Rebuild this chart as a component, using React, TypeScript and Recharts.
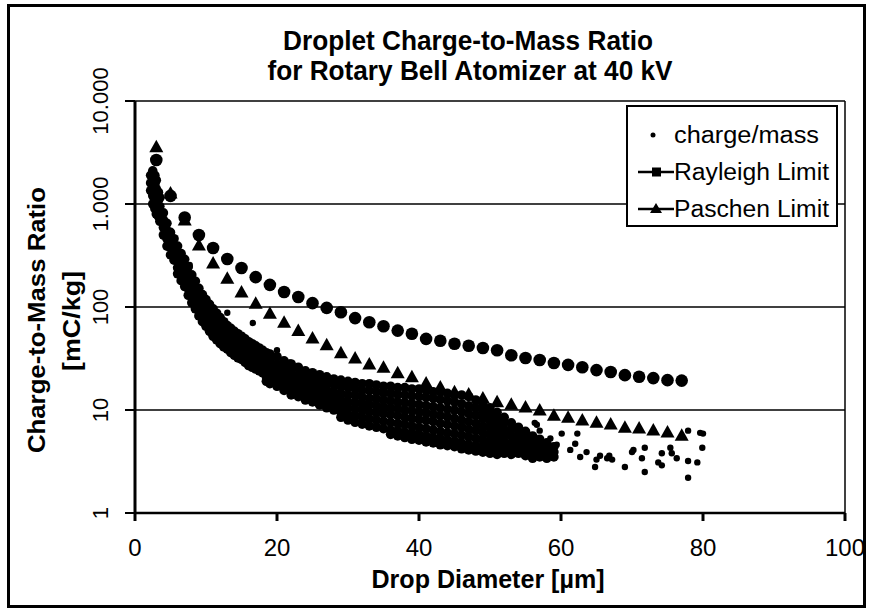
import {
  ScatterChart,
  Scatter,
  XAxis,
  YAxis,
  CartesianGrid,
  ReferenceLine,
  Legend,
} from "recharts";

const FONT = "'Liberation Sans', Arial, Helvetica, sans-serif";

const xTicks = [0, 20, 40, 60, 80, 100];
const yTicks = [1, 10, 100, 1000, 10000];
const yTickLabels = ["1", "10", "100", "1.000", "10.000"];

// diameters (µm) where the two limit curves are evaluated
const limitDiameters = [
  3, 5, 7, 9, 11, 13, 15, 17, 19, 21, 23, 25, 27, 29, 31, 33, 35, 37, 39,
  41, 43, 45, 47, 49, 51, 53, 55, 57, 59, 61, 63, 65, 67, 69, 71, 73, 75, 77,
];
const rayleighValues = [
  2670, 1200, 740, 500, 374, 292, 239, 195, 164, 140, 125, 109, 98, 89, 78,
  71, 65, 59, 55, 49, 47, 44, 42, 40, 38, 34, 32, 30.6, 28.6, 27.4, 26, 24.4,
  23.4, 21.8, 21, 20.4, 19.5, 19.3,
];
const paschenValues = [
  3600, 1280, 700, 400, 267, 190, 140, 109, 87, 71, 59, 50, 43, 36, 32, 28,
  26, 23, 21, 18.3, 16.7, 15, 14.3, 13.1, 12, 11.4, 10.7, 10, 8.9, 8.5, 8.0,
  7.6, 7.3, 6.8, 6.7, 6.4, 6.1, 5.7,
];

// measured droplets: [diameter, q/m values...]
const cloudColumns = [
  [2.2, 1900, 1600, 1350],
  [2.5, 2100, 1750, 1450, 1200, 1000],
  [2.8, 1900, 1550, 1300, 1050, 900],
  [3, 1700, 1400, 1150, 950, 800],
  [3.3, 1300, 1100, 900, 760],
  [3.5, 1150, 950, 800, 680],
  [4, 820, 700, 590, 500],
  [4.5, 650, 550, 460, 390],
  [5, 530, 450, 380, 320],
  [5.5, 460, 390, 330, 285],
  [6, 390, 330, 280, 240, 210],
  [6.5, 330, 280, 240, 205, 180],
  [7, 290, 245, 210, 180, 158],
  [7.5, 245, 205, 175, 150, 130],
  [8, 205, 175, 148, 126, 110],
  [8.5, 178, 152, 130, 111, 96],
  [9, 152, 130, 111, 95, 82],
  [9.5, 132, 113, 97, 83, 72],
  [10, 118, 101, 87, 75, 65],
  [10.5, 106, 91, 78, 67, 58],
  [11, 96, 82, 70, 60, 52],
  [11.5, 87, 75, 64, 55, 48],
  [12, 79, 68, 58, 50, 44],
  [12.5, 72, 62, 54, 47, 41],
  [13, 66, 57, 50, 44, 39],
  [13.5, 62, 54, 47, 41, 36],
  [14, 58, 50, 44, 38, 34],
  [14.5, 55, 48, 42, 36, 32],
  [15, 52, 45, 40, 35, 31],
  [15.5, 49, 42, 37, 33, 29],
  [16, 46, 40, 35, 31, 27],
  [16.5, 44, 38, 33, 29, 26],
  [17, 42, 36, 32, 28, 25],
  [17.5, 40, 35, 30, 27, 24],
  [18, 38, 33, 29, 26, 23],
  [18.5, 36, 31, 27, 24, 21, 19],
  [19, 35, 30, 26, 23, 20, 18],
  [20, 33, 28, 24, 21, 18.5, 17],
  [21, 30, 26, 22, 19.5, 17, 15.5],
  [22, 28, 24, 21, 18, 16, 14],
  [23, 26, 22, 19.5, 17, 15, 13.5],
  [24, 24, 21, 18.5, 16, 14, 12.5],
  [25, 23, 20, 17.5, 15, 13, 12],
  [26, 22, 19, 16.5, 14.5, 12.5, 11.2],
  [27, 21, 18, 15.5, 13.5, 12, 10.5],
  [28, 20, 17.5, 15, 13, 11.3, 10],
  [29, 19.5, 17, 14.5, 12.5, 11, 9.5, 8.5],
  [30, 19, 16.5, 14, 12, 10.5, 9, 8],
  [31, 18.5, 16, 13.8, 11.8, 10.2, 8.8, 7.6],
  [32, 18, 15.5, 13.3, 11.5, 10, 8.5, 7.3],
  [33, 18, 15.5, 13, 11.2, 9.6, 8.2, 7],
  [34, 17.5, 15, 12.8, 11, 9.4, 8, 6.8],
  [35, 17, 14.7, 12.5, 10.7, 9.2, 7.8, 6.6],
  [36, 17, 14.5, 12.3, 10.5, 9, 7.6, 6.4, 5.8],
  [37, 16.5, 14.2, 12, 10.3, 8.8, 7.4, 6.3, 5.6],
  [38, 16.5, 14, 11.8, 10, 8.5, 7.2, 6.1, 5.4],
  [39, 16, 13.7, 11.5, 9.8, 8.3, 7, 6, 5.2],
  [40, 16, 13.5, 11.3, 9.6, 8.1, 6.8, 5.8, 5.1],
  [41, 15.5, 13.2, 11, 9.3, 7.9, 6.6, 5.6, 4.9],
  [42, 15, 13, 10.8, 9.1, 7.7, 6.4, 5.4, 4.8],
  [43, 15, 12.6, 10.5, 8.8, 7.4, 6.2, 5.3, 4.6],
  [44, 14.5, 12.3, 10.2, 8.6, 7.2, 6, 5.1, 4.5],
  [45, 14, 12, 10, 8.3, 7, 5.9, 5, 4.4],
  [46, 14, 11.5, 9.6, 8, 6.8, 5.7, 4.8, 4.2],
  [47, 13.5, 11, 9.2, 7.7, 6.5, 5.5, 4.6, 4.1],
  [48, 12.5, 10.5, 8.8, 7.4, 6.3, 5.3, 4.5, 4.0],
  [49, 11.5, 9.8, 8.3, 7, 6, 5.1, 4.4, 3.9],
  [50, 10.5, 9, 7.8, 6.7, 5.7, 4.9, 4.2, 3.8],
  [51, 9.5, 8.3, 7.2, 6.2, 5.3, 4.6, 4.0, 3.7],
  [52, 8.5, 7.5, 6.5, 5.6, 4.9, 4.3, 3.8],
  [53, 7.5, 6.5, 5.6, 4.8, 4.2, 3.7],
  [54, 6.8, 5.8, 5, 4.3, 3.8],
  [55, 6.2, 5.3, 4.6, 4, 3.6],
  [56, 5.6, 4.8, 4.2, 3.7, 3.4],
  [57, 5.2, 4.5, 3.9, 3.5],
  [58, 4.8, 4.2, 3.7, 3.4],
  [59, 4.4, 3.9, 3.5],
];
const cloudStrays = [
  [7.7, 256], [13, 88], [16.6, 70], [20, 38], [21.8, 29], [47.2, 8.9],
  [50.4, 8.5], [51, 8.5], [52.4, 6.3], [56.3, 7.5], [56.6, 7.2], [57, 6.3],
  [58.5, 5.3], [59.4, 4.6], [60.1, 5.9], [61.3, 4.1], [62, 4.7], [62.3, 5.9],
  [62.7, 3.5], [63.6, 3.9], [64.8, 2.8], [65, 3.3], [65.5, 3.6], [66.5, 3.4],
  [66.8, 3.6], [67.2, 3.3], [69, 2.8], [70, 3.9], [70.2, 4.1], [71.4, 3.4],
  [71.8, 2.5], [71.8, 4.3], [73.7, 3.1], [74.2, 3.8], [74.2, 2.9],
  [75.4, 4.3], [75.6, 3.8], [76.3, 3.4], [77.9, 3.2], [77.9, 2.2],
  [77.9, 6.3], [79.2, 3.1], [79.6, 6.0], [79.9, 4.3], [80, 5.9],
];

const cloudData = cloudColumns.flatMap(([d, ...vals]) => vals.map((v) => ({ x: d, y: v })));
const strayData = cloudStrays.map(([d, v]) => ({ x: d, y: v }));
const rayleighData = limitDiameters.map((d, i) => ({ x: d, y: rayleighValues[i] }));
const paschenData = limitDiameters.map((d, i) => ({ x: d, y: paschenValues[i] }));

const dot = (p: any) => <circle cx={p.cx} cy={p.cy} r={4.8} fill="#000" />;
const smallDot = (p: any) => <circle cx={p.cx} cy={p.cy} r={3.2} fill="#000" />;
const bigDot = (p: any) => <circle cx={p.cx} cy={p.cy} r={6.3} fill="#000" />;
const triangle = (p: any) => (
  <polygon
    points={`${p.cx},${p.cy - 7} ${p.cx + 7},${p.cy + 5.5} ${p.cx - 7},${p.cy + 5.5}`}
    fill="#000"
  />
);

function XTick({ x, payload }: any) {
  return (
    <text x={x} y={556} textAnchor="middle" fontFamily={FONT} fontSize={24} fill="#000">
      {payload.value}
    </text>
  );
}

function YTick({ y, payload }: any) {
  const label = yTickLabels[yTicks.indexOf(payload.value)];
  return (
    <text
      transform={`translate(108,${y}) rotate(-90)`}
      textAnchor="middle"
      fontFamily={FONT}
      fontSize={22}
      fill="#000"
    >
      {label}
    </text>
  );
}

function LegendBox() {
  const rows = [
    { label: "charge/mass", len: 145, kind: "dot" },
    { label: "Rayleigh Limit", len: 155, kind: "square" },
    { label: "Paschen Limit", len: 155, kind: "triangle" },
  ];
  return (
    <div
      style={{
        width: 212,
        height: 122,
        border: "2px solid #000",
        boxSizing: "border-box",
        background: "#fff",
      }}
    >
      <svg width={208} height={118}>
        {rows.map((r, i) => {
          const cy = 28 + i * 37;
          return (
            <g key={r.label}>
              {r.kind === "dot" && <circle cx={25} cy={cy} r={2.5} fill="#000" />}
              {r.kind !== "dot" && (
                <line x1={10} x2={46} y1={cy} y2={cy} stroke="#000" strokeWidth={2.5} />
              )}
              {r.kind === "square" && <rect x={24} y={cy - 4.5} width={9} height={9} fill="#000" />}
              {r.kind === "triangle" && (
                <polygon points={`28,${cy - 6} 34,${cy + 4} 22,${cy + 4}`} fill="#000" />
              )}
              <text
                x={46}
                y={cy + 8}
                fontFamily={FONT}
                fontSize={23}
                textLength={r.len}
                lengthAdjust="spacingAndGlyphs"
                fill="#000"
              >
                {r.label}
              </text>
            </g>
          );
        })}
      </svg>
    </div>
  );
}

export default function App() {
  return (
    <div style={{ position: "absolute", left: 0, top: 0, width: 872, height: 610, background: "#fff" }}>
      <div
        style={{
          position: "absolute",
          left: 7,
          top: 4,
          width: 859,
          height: 604,
          border: "3.5px solid #000",
          boxSizing: "border-box",
        }}
      />
      <ScatterChart
        width={872}
        height={610}
        margin={{ top: 101, right: 27, bottom: 57, left: 95 }}
        style={{ position: "absolute", left: 0, top: 0 }}
      >
        <CartesianGrid vertical={false} stroke="#000" strokeWidth={1.5} />
        <XAxis
          type="number"
          dataKey="x"
          domain={[0, 100]}
          ticks={xTicks}
          allowDataOverflow
          height={40}
          tickSize={8}
          axisLine={{ stroke: "#000", strokeWidth: 2.5 }}
          tickLine={{ stroke: "#000", strokeWidth: 3 }}
          tick={<XTick />}
        />
        <YAxis
          type="number"
          dataKey="y"
          scale="log"
          domain={[1, 10000]}
          ticks={yTicks}
          allowDataOverflow
          width={40}
          tickSize={10}
          axisLine={{ stroke: "#000", strokeWidth: 3 }}
          tickLine={{ stroke: "#000", strokeWidth: 2 }}
          tick={<YTick />}
        />
        <ReferenceLine x={100} stroke="#000" strokeWidth={1.5} />
        <Scatter name="charge/mass" data={cloudData} shape={dot} isAnimationActive={false} />
        <Scatter name="charge/mass strays" data={strayData} shape={smallDot} isAnimationActive={false} />
        <Scatter name="Rayleigh Limit" data={rayleighData} shape={bigDot} isAnimationActive={false} />
        <Scatter name="Paschen Limit" data={paschenData} shape={triangle} isAnimationActive={false} />
        <Legend
          layout="vertical"
          align="center"
          verticalAlign="middle"
          wrapperStyle={{ left: 626, top: 105, width: 212, height: 122 }}
          content={() => <LegendBox />}
        />
      </ScatterChart>
      <svg
        width={872}
        height={610}
        style={{ position: "absolute", left: 0, top: 0, pointerEvents: "none" }}
        fontFamily={FONT}
        fontWeight="bold"
        fill="#000"
      >
        <text x={468} y={50} textAnchor="middle" fontSize={28} textLength={370} lengthAdjust="spacingAndGlyphs">
          Droplet Charge-to-Mass Ratio
        </text>
        <text x={470} y={80} textAnchor="middle" fontSize={28} textLength={405} lengthAdjust="spacingAndGlyphs">
          for Rotary Bell Atomizer at 40 kV
        </text>
        <text
          transform="translate(45,320) rotate(-90)"
          textAnchor="middle"
          fontSize={23}
          textLength={266}
          lengthAdjust="spacingAndGlyphs"
        >
          Charge-to-Mass Ratio
        </text>
        <text
          transform="translate(80,321) rotate(-90)"
          textAnchor="middle"
          fontSize={23}
          textLength={100}
          lengthAdjust="spacingAndGlyphs"
        >
          [mC/kg]
        </text>
        <text x={488} y={588} textAnchor="middle" fontSize={25} textLength={233} lengthAdjust="spacingAndGlyphs">
          Drop Diameter [µm]
        </text>
      </svg>
    </div>
  );
}
